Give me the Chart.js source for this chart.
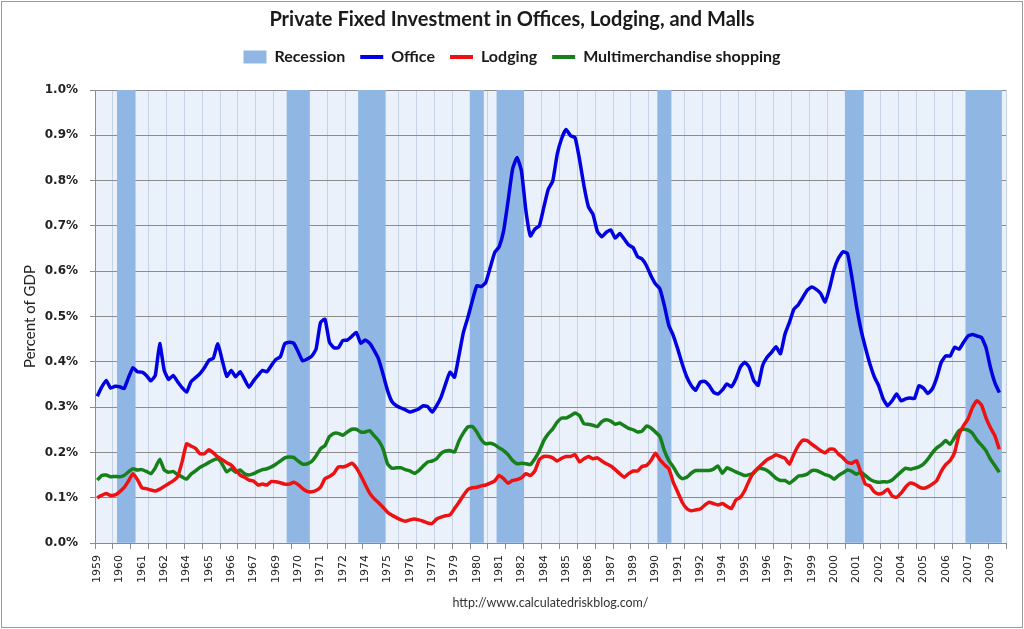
<!DOCTYPE html>
<html><head><meta charset="utf-8">
<script src="https://cdn.jsdelivr.net/npm/chart.js@4.4.1/dist/chart.umd.min.js"></script>
<style>html,body{margin:0;padding:0;background:#fff;}canvas{display:block;}</style>
</head><body>
<canvas id="c" width="1024" height="629"></canvas>
<script>
const startYear = 1959, endYear = 2009;
const quarters = [];
for (let y = startYear; y <= endYear; y++) for (let q = 1; q <= 4; q++) quarters.push(y + ' Q' + q);

const office = [
0.324,0.344,0.359,0.342,0.346,0.345,0.341,0.365,0.387,0.378,
0.377,0.370,0.358,0.370,0.440,0.381,0.361,0.370,0.356,0.343,
0.333,0.356,0.365,0.374,0.387,0.403,0.408,0.440,0.403,0.368,
0.381,0.367,0.378,0.361,0.344,0.358,0.370,0.381,0.378,0.392,
0.405,0.411,0.440,0.443,0.441,0.422,0.402,0.406,0.412,0.428,
0.487,0.494,0.443,0.431,0.431,0.447,0.448,0.456,0.465,0.441,
0.448,0.441,0.425,0.406,0.373,0.337,0.312,0.303,0.298,0.294,
0.289,0.292,0.296,0.303,0.301,0.289,0.303,0.322,0.351,0.377,
0.366,0.414,0.465,0.498,0.535,0.568,0.566,0.575,0.608,0.641,
0.654,0.689,0.755,0.825,0.851,0.821,0.733,0.678,0.693,0.700,
0.741,0.781,0.799,0.858,0.893,0.913,0.899,0.895,0.847,0.788,
0.742,0.726,0.688,0.676,0.686,0.691,0.673,0.683,0.671,0.658,
0.652,0.632,0.627,0.612,0.590,0.572,0.561,0.524,0.480,0.458,
0.428,0.395,0.367,0.348,0.337,0.355,0.357,0.348,0.333,0.329,
0.338,0.351,0.345,0.362,0.388,0.399,0.388,0.359,0.348,0.392,
0.410,0.421,0.433,0.418,0.461,0.487,0.516,0.526,0.542,0.558,
0.565,0.560,0.551,0.532,0.563,0.604,0.629,0.643,0.639,0.586,
0.524,0.472,0.432,0.396,0.367,0.347,0.318,0.303,0.314,0.329,
0.314,0.318,0.320,0.319,0.347,0.342,0.330,0.340,0.365,0.399,
0.413,0.413,0.432,0.428,0.443,0.457,0.460,0.457,0.454,0.432,
0.388,0.354,0.332];

const lodging = [
0.100,0.105,0.109,0.105,0.106,0.113,0.122,0.137,0.153,0.140,
0.122,0.120,0.117,0.115,0.119,0.125,0.131,0.137,0.146,0.179,
0.219,0.214,0.209,0.197,0.197,0.206,0.199,0.190,0.184,0.177,
0.172,0.161,0.150,0.145,0.139,0.137,0.128,0.130,0.128,0.136,
0.135,0.133,0.130,0.130,0.134,0.129,0.120,0.114,0.113,0.116,
0.123,0.142,0.147,0.154,0.168,0.168,0.171,0.176,0.166,0.149,
0.129,0.110,0.098,0.089,0.079,0.068,0.061,0.056,0.051,0.048,
0.051,0.053,0.051,0.048,0.044,0.043,0.053,0.057,0.060,0.062,
0.076,0.090,0.105,0.118,0.122,0.123,0.126,0.128,0.132,0.137,
0.149,0.142,0.132,0.138,0.140,0.144,0.153,0.149,0.159,0.184,
0.191,0.191,0.188,0.181,0.187,0.191,0.191,0.195,0.179,0.186,
0.191,0.186,0.188,0.181,0.175,0.170,0.162,0.153,0.145,0.153,
0.159,0.159,0.169,0.171,0.182,0.198,0.184,0.173,0.164,0.134,
0.112,0.090,0.076,0.071,0.073,0.075,0.083,0.090,0.087,0.084,
0.087,0.081,0.076,0.095,0.101,0.116,0.138,0.156,0.166,0.175,
0.184,0.189,0.195,0.191,0.187,0.174,0.196,0.215,0.227,0.226,
0.218,0.211,0.204,0.199,0.207,0.207,0.196,0.188,0.178,0.176,
0.182,0.156,0.130,0.126,0.113,0.108,0.111,0.119,0.104,0.101,
0.110,0.123,0.132,0.130,0.124,0.121,0.124,0.130,0.138,0.158,
0.173,0.182,0.200,0.240,0.259,0.274,0.299,0.314,0.305,0.277,
0.255,0.237,0.207];

const shopping = [
0.139,0.149,0.150,0.146,0.147,0.146,0.149,0.157,0.164,0.161,
0.162,0.158,0.153,0.166,0.185,0.161,0.156,0.158,0.151,0.146,
0.141,0.152,0.159,0.167,0.172,0.178,0.183,0.186,0.174,0.157,
0.164,0.156,0.161,0.153,0.150,0.153,0.158,0.162,0.164,0.168,
0.174,0.181,0.188,0.190,0.189,0.181,0.174,0.175,0.180,0.192,
0.208,0.215,0.235,0.242,0.242,0.238,0.245,0.251,0.251,0.245,
0.245,0.248,0.237,0.226,0.208,0.175,0.165,0.166,0.166,0.162,
0.159,0.154,0.160,0.170,0.179,0.181,0.186,0.198,0.203,0.204,
0.201,0.225,0.243,0.256,0.257,0.245,0.228,0.219,0.220,0.217,
0.210,0.204,0.195,0.182,0.175,0.176,0.175,0.173,0.186,0.203,
0.226,0.241,0.252,0.267,0.276,0.276,0.281,0.287,0.281,0.263,
0.262,0.260,0.257,0.268,0.272,0.269,0.262,0.265,0.259,0.253,
0.250,0.245,0.247,0.258,0.254,0.245,0.235,0.204,0.182,0.168,
0.151,0.142,0.145,0.154,0.160,0.160,0.160,0.160,0.163,0.170,
0.154,0.166,0.162,0.157,0.153,0.149,0.151,0.154,0.164,0.164,
0.160,0.152,0.143,0.138,0.138,0.132,0.139,0.148,0.149,0.152,
0.160,0.160,0.156,0.151,0.148,0.141,0.149,0.155,0.161,0.158,
0.152,0.156,0.149,0.141,0.136,0.134,0.135,0.135,0.139,0.148,
0.157,0.165,0.163,0.165,0.168,0.174,0.185,0.199,0.210,0.217,
0.226,0.218,0.233,0.248,0.251,0.249,0.242,0.227,0.216,0.204,
0.185,0.171,0.156];

const recessions = [
  ['1960 Q2','1961 Q1'], ['1969 Q4','1970 Q4'], ['1973 Q4','1975 Q1'],
  ['1980 Q1','1980 Q3'], ['1981 Q3','1982 Q4'], ['1990 Q3','1991 Q1'],
  ['2001 Q1','2001 Q4'], ['2007 Q4','2009 Q3']
];
const recessionBars = quarters.map((q, i) =>
  recessions.some(([a, b]) => i >= quarters.indexOf(a) && i <= quarters.indexOf(b)) ? 1.0 : null);

const chartTitle = 'Private Fixed Investment in Offices, Lodging, and Malls';
const sourceText = 'http://www.calculatedriskblog.com/';

const frame = {
  id: 'frame',
  beforeDraw(chart) {
    const {ctx, chartArea: a} = chart;
    ctx.save();
    ctx.fillStyle = '#ffffff';
    ctx.fillRect(0, 0, chart.width, chart.height);
    ctx.fillStyle = '#EAF1FB';
    ctx.fillRect(a.left, a.top, a.right - a.left, a.bottom - a.top);
    ctx.restore();
  },
  afterDraw(chart) {
    const {ctx} = chart;
    ctx.save();
    ctx.strokeStyle = '#9a9a9a';
    ctx.lineWidth = 1;
    ctx.strokeRect(1.5, 1.5, chart.width - 3, chart.height - 3);
    ctx.restore();
  }
};

new Chart(document.getElementById('c'), {
  type: 'line',
  data: {
    labels: quarters,
    datasets: [
      {type: 'bar', label: 'Recession', data: recessionBars, backgroundColor: '#90B6E3', borderWidth: 0,
       categoryPercentage: 1, barPercentage: 1, order: 1},
      {type: 'line', label: 'Office', data: office, borderColor: '#0000E0', backgroundColor: '#0000E0',
       borderWidth: 3.5, pointRadius: 0, tension: 0.15, order: 0},
      {type: 'line', label: 'Lodging', data: lodging, borderColor: '#EE1111', backgroundColor: '#EE1111',
       borderWidth: 3.5, pointRadius: 0, tension: 0.15, order: 0},
      {type: 'line', label: 'Multimerchandise shopping', data: shopping, borderColor: '#17801A', backgroundColor: '#17801A',
       borderWidth: 3.5, pointRadius: 0, tension: 0.15, order: 0}
    ]
  },
  options: {
    responsive: false, animation: false, devicePixelRatio: 1,
    layout: {padding: {left: 18, right: 18, top: 0, bottom: 0}},
    plugins: {
      title: {display: true, text: chartTitle, color: '#1a1a1a',
              font: {family: 'Lato', size: 20, weight: 'bold'}, padding: {top: 8, bottom: 2}},
      subtitle: {display: true, text: '', weight: 500, font: {size: 1, lineHeight: 1}, padding: {top: 14, bottom: 0}},
      legend: {
        display: true, position: 'top',
        labels: {
          usePointStyle: true, pointStyleWidth: 23, boxHeight: 13, padding: 15,
          color: '#1a1a1a', font: {family: 'Lato', size: 16, weight: 'bold'},
          generateLabels: chart => chart.data.datasets.map((ds, i) => ({
            text: ds.label, datasetIndex: i, hidden: false, fontColor: '#1a1a1a',
            fillStyle: ds.backgroundColor, strokeStyle: ds.type === 'bar' ? ds.backgroundColor : ds.borderColor,
            lineWidth: ds.type === 'bar' ? 0 : 4, pointStyle: ds.type === 'bar' ? 'rect' : 'line'
          }))
        }
      },
      tooltip: {enabled: false}
    },
    scales: {
      x: {
        type: 'category', offset: true,
        grid: {
          offset: true, lineWidth: 1, tickLength: 6,
          color: c => (c.index === undefined || c.index % 4 === 0) ? '#C6D3E4' : 'rgba(0,0,0,0)',
          tickColor: c => (c.index === undefined || c.index % 4 === 0) ? '#8a8a8a' : 'rgba(0,0,0,0)'
        },
        border: {display: true, color: '#8a8a8a'},
        ticks: {
          autoSkip: false, minRotation: 90, maxRotation: 90, padding: 6, color: '#222',
          font: {family: 'DejaVu Sans', size: 11},
          callback: function (v, i) { return i % 5 === 0 ? this.getLabelForValue(v).slice(0, 4) : ''; }
        },
        title: {display: true, text: sourceText, color: '#333', font: {family: 'Lato', size: 12.5},
                padding: {top: 0, bottom: 18.5}},
        afterFit: s => { s.height = 86; }
      },
      y: {
        min: 0, max: 1.0,
        ticks: {stepSize: 0.1, padding: 12, color: '#222', font: {family: 'DejaVu Sans', size: 12, weight: 'bold'},
                callback: v => v.toFixed(1) + '%'},
        grid: {color: '#8c8c8c', tickColor: '#8c8c8c', tickLength: 5, lineWidth: 1},
        border: {color: '#8c8c8c'},
        title: {display: true, text: 'Percent of GDP', color: '#222', font: {family: 'Lato', size: 15},
                padding: {top: 3, bottom: 0}},
        afterFit: s => { s.width = 77; }
      }
    }
  },
  plugins: [frame]
});
</script>
</body></html>
